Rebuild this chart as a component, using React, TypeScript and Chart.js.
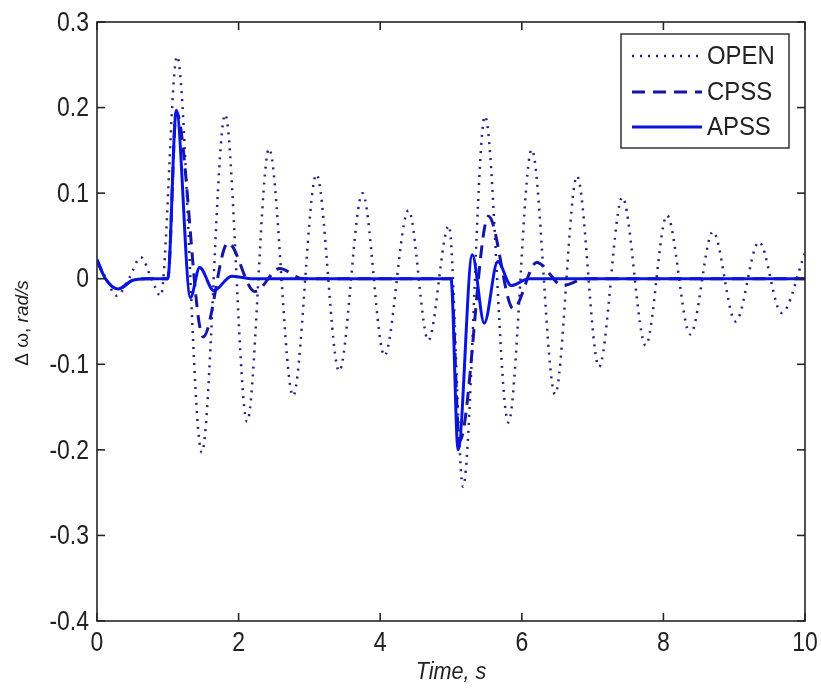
import React, { useEffect, useRef } from "react";
import { Chart, registerables } from "chart.js";

Chart.register(...registerables);

// ---------- data ----------
const openT = [0, 0.13, 0.28, 0.45, 0.62, 0.77, 0.9, 1.13, 1.48, 1.81, 2.12, 2.43, 2.77, 3.1, 3.42, 3.75, 4.06, 4.4, 4.68, 4.97, 5.17, 5.48, 5.81, 6.14, 6.47, 6.78, 7.09, 7.42, 7.75, 8.05, 8.38, 8.7, 9.02, 9.35, 9.67, 10];
const openV = [0.022, 0.0, -0.02, 0.0, 0.025, 0.0, -0.02, 0.26, -0.203, 0.192, -0.167, 0.152, -0.137, 0.122, -0.108, 0.1, -0.09, 0.08, -0.072, 0.062, -0.243, 0.19, -0.168, 0.151, -0.135, 0.12, -0.103, 0.095, -0.078, 0.074, -0.065, 0.055, -0.05, 0.043, -0.04, 0.03];

const cpssT = [0, 0.12, 0.3, 0.5, 0.7, 1.0, 1.12, 1.5, 1.85, 2.23, 2.58, 2.9, 5.0, 5.12, 5.53, 5.88, 6.21, 6.58, 6.9, 10];
const cpssV = [0.022, 0.0, -0.012, -0.002, 0.0, 0.0, 0.195, -0.068, 0.042, -0.015, 0.012, 0.0, 0.0, -0.19, 0.073, -0.035, 0.019, -0.008, 0.0, 0.0];

const apssT = [0, 0.12, 0.3, 0.5, 0.7, 1.0, 1.12, 1.32, 1.45, 1.65, 1.9, 2.2, 5.0, 5.1, 5.3, 5.47, 5.66, 5.85, 6.1, 10];
const apssV = [0.022, 0.0, -0.012, -0.002, 0.0, 0.0, 0.197, -0.022, 0.013, -0.014, 0.003, 0.0, 0.0, -0.2, 0.028, -0.052, 0.02, -0.008, 0.0, 0.0];

const seriesLabels = ["OPEN", "CPSS", "APSS"];
const xTicks = [0, 2, 4, 6, 8, 10];
const yTicks = [-0.4, -0.3, -0.2, -0.1, 0, 0.1, 0.2, 0.3];
const xTitle = "Time, s";
const yTitlePlain = "\u0394 \u03c9, ";
const yTitleItalic = "rad/s";

const FONT = "'Liberation Sans', Arial, sans-serif";
const INK = "#222222";

const fmt = (v: number) => String(Math.round(v * 10) / 10);

export default function App() {
  const ref = useRef<HTMLCanvasElement | null>(null);

  useEffect(() => {
    const canvas = ref.current;
    if (!canvas) return;
    const mk = (t: number[], v: number[]) => t.map((x, i) => ({ x, y: v[i] }));

    const framePlugin = {
      id: "matlabFrame",
      afterDraw(chart: any) {
        const { ctx, chartArea, scales } = chart;
        const { left, right, top, bottom } = chartArea;
        const xs = scales.x;
        const ys = scales.y;
        ctx.save();
        ctx.strokeStyle = "#262626";
        ctx.lineWidth = 1.6;
        ctx.setLineDash([]);
        const seg = (x1: number, y1: number, x2: number, y2: number) => {
          ctx.beginPath();
          ctx.moveTo(x1, y1);
          ctx.lineTo(x2, y2);
          ctx.stroke();
        };
        const txt = (s: string, x: number, y: number, font: string, align: string, sx: number) => {
          ctx.save();
          ctx.translate(x, y);
          ctx.scale(sx, 1);
          ctx.font = font;
          ctx.fillStyle = INK;
          ctx.textAlign = align;
          ctx.textBaseline = "middle";
          ctx.fillText(s, 0, 0);
          ctx.restore();
        };
        const TL = 8;
        const tickFont = `28px ${FONT}`;
        xTicks.forEach((v) => {
          const px = xs.getPixelForValue(v);
          seg(px, bottom, px, bottom - TL);
          seg(px, top, px, top + TL);
          txt(String(v), px, bottom + 22, tickFont, "center", 0.82);
        });
        yTicks.forEach((v) => {
          const py = ys.getPixelForValue(v);
          seg(left, py, left + TL, py);
          seg(right, py, right - TL, py);
          txt(fmt(v), left - 8, py + 1, tickFont, "right", 0.82);
        });
        ctx.strokeRect(left, top, right - left, bottom - top);

        // legend
        const bx = 621, by = 34, bw = 168, bh = 114;
        ctx.fillStyle = "#ffffff";
        ctx.fillRect(bx, by, bw, bh);
        ctx.strokeStyle = "#262626";
        ctx.lineWidth = 1.4;
        ctx.strokeRect(bx, by, bw, bh);
        const rows = [56, 92, 127];
        chart.data.datasets.forEach((ds: any, i: number) => {
          const ry = rows[i];
          ctx.save();
          ctx.strokeStyle = ds.borderColor;
          ctx.lineWidth = ds.borderWidth;
          ctx.setLineDash(ds.borderDash || []);
          ctx.beginPath();
          ctx.moveTo(632, ry);
          ctx.lineTo(702, ry);
          ctx.stroke();
          ctx.restore();
          txt(ds.label, 707, ry + 1, `26px ${FONT}`, "left", 0.92);
        });

        // axis titles
        txt(xTitle, (left + right) / 2, 672, `italic 24px ${FONT}`, "center", 0.9);

        ctx.save();
        ctx.translate(23, 323);
        ctx.rotate(-Math.PI / 2);
        ctx.fillStyle = INK;
        ctx.textBaseline = "middle";
        ctx.font = `19px ${FONT}`;
        const wA = ctx.measureText(yTitlePlain).width;
        ctx.font = `italic 19px ${FONT}`;
        const wB = ctx.measureText(yTitleItalic).width;
        const start = -(wA + wB) / 2;
        ctx.textAlign = "left";
        ctx.font = `19px ${FONT}`;
        ctx.fillText(yTitlePlain, start, 0);
        ctx.font = `italic 19px ${FONT}`;
        ctx.fillText(yTitleItalic, start + wA, 0);
        ctx.restore();

        ctx.restore();
      },
    };

    const chart = new Chart(canvas, {
      type: "line",
      data: {
        datasets: [
          {
            label: seriesLabels[0],
            data: mk(openT, openV),
            borderColor: "#22228a",
            borderWidth: 2.5,
            borderDash: [2, 6],
            cubicInterpolationMode: "monotone",
            pointRadius: 0,
            order: 2,
          },
          {
            label: seriesLabels[1],
            data: mk(cpssT, cpssV),
            borderColor: "#1515a8",
            borderWidth: 3,
            borderDash: [13, 8],
            cubicInterpolationMode: "monotone",
            pointRadius: 0,
            order: 1,
          },
          {
            label: seriesLabels[2],
            data: mk(apssT, apssV),
            borderColor: "#0a14e0",
            borderWidth: 3,
            borderDash: [],
            cubicInterpolationMode: "monotone",
            pointRadius: 0,
            order: 0,
          },
        ],
      } as any,
      options: {
        animation: false,
        responsive: false,
        maintainAspectRatio: false,
        layout: { padding: { top: 22, right: 16, left: 0, bottom: 0 } },
        plugins: { legend: { display: false }, tooltip: { enabled: false } },
        elements: { point: { radius: 0 } },
        scales: {
          x: {
            type: "linear",
            min: 0,
            max: 10,
            afterFit: (s: any) => {
              s.height = 68;
            },
            afterBuildTicks: (s: any) => {
              s.ticks = xTicks.map((v) => ({ value: v }));
            },
            ticks: { display: false },
            grid: { display: false, drawTicks: false },
            border: { display: false },
          },
          y: {
            type: "linear",
            min: -0.4,
            max: 0.3,
            afterFit: (s: any) => {
              s.width = 97;
            },
            afterBuildTicks: (s: any) => {
              s.ticks = yTicks.map((v) => ({ value: v }));
            },
            ticks: { display: false },
            grid: { display: false, drawTicks: false },
            border: { display: false },
          },
        },
      } as any,
      plugins: [framePlugin],
    });

    return () => chart.destroy();
  }, []);

  return (
    <div style={{ position: "absolute", left: 0, top: 0, width: 821, height: 689, background: "#ffffff" }}>
      <canvas ref={ref} width={821} height={689} style={{ display: "block" }} />
    </div>
  );
}
